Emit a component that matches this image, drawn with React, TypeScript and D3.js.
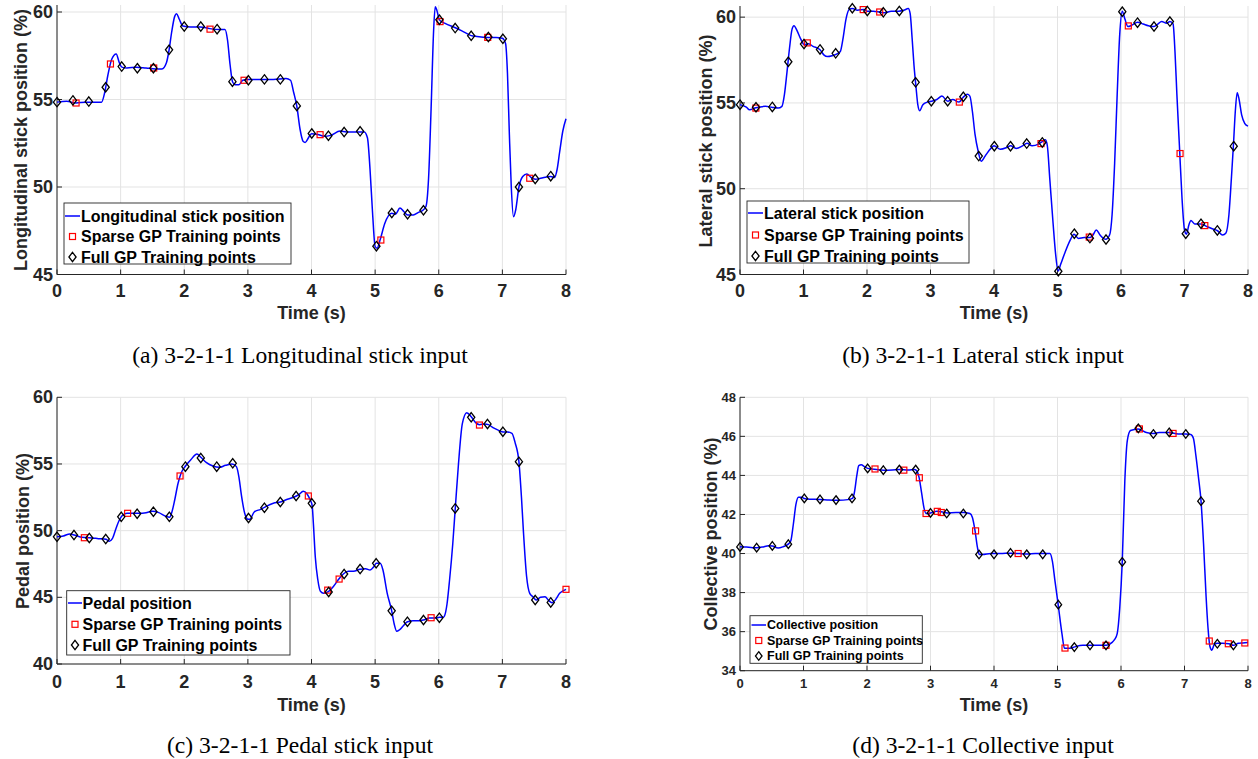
import React from 'react';
import * as d3 from 'd3';

// ---------- DATA ----------
const timeTicks = [0, 1, 2, 3, 4, 5, 6, 7, 8];
const longYTicks = [45, 50, 55, 60];
const latYTicks = [45, 50, 55, 60];
const pedalYTicks = [40, 45, 50, 55, 60];
const collYTicks = [34, 36, 38, 40, 42, 44, 46, 48];

const longitudinalCurve: [number, number][] = [
  [0, 54.85], [0.15, 54.9], [0.3, 54.8], [0.45, 54.85], [0.6, 54.85], [0.7, 54.85], [0.75, 55.4], [0.8, 56.4],
  [0.86, 57.3], [0.93, 57.6], [0.98, 57.1], [1.02, 56.85], [1.1, 56.8], [1.25, 56.85], [1.4, 56.8], [1.55, 56.75],
  [1.65, 56.75], [1.72, 57.1], [1.76, 57.8], [1.8, 58.8], [1.85, 59.75], [1.88, 59.9], [1.92, 59.6], [1.98, 59.2],
  [2.1, 59.15], [2.25, 59.15], [2.4, 59.05], [2.55, 59.0], [2.64, 59.0], [2.68, 58.4], [2.72, 57.0], [2.76, 56.0],
  [2.8, 55.85], [2.86, 55.85], [2.92, 56.1], [3.0, 56.15], [3.2, 56.15], [3.4, 56.15], [3.6, 56.2], [3.67, 56.1],
  [3.72, 55.4], [3.77, 54.6], [3.82, 53.3], [3.87, 52.6], [3.9, 52.55], [3.95, 52.8], [4.0, 53.05], [4.1, 53.0],
  [4.2, 52.9], [4.3, 52.95], [4.45, 53.2], [4.55, 53.15], [4.7, 53.15], [4.83, 53.15], [4.88, 52.8], [4.92, 51.0],
  [4.96, 48.5], [5.0, 46.6], [5.03, 46.5], [5.08, 47.0], [5.15, 47.9], [5.26, 48.5], [5.32, 48.45], [5.39, 48.8],
  [5.45, 48.6], [5.51, 48.4], [5.6, 48.4], [5.68, 48.55], [5.76, 48.7], [5.8, 48.9], [5.84, 50.5], [5.88, 54.5],
  [5.92, 59.0], [5.945, 60.3], [5.97, 60.1], [6.01, 59.55], [6.1, 59.35], [6.26, 59.1], [6.4, 58.85], [6.51, 58.65],
  [6.6, 58.6], [6.78, 58.55], [6.9, 58.55], [7.0, 58.5], [7.05, 58.2], [7.08, 56.5], [7.11, 53.0], [7.14, 50.0],
  [7.175, 48.3], [7.21, 48.7], [7.26, 50.0], [7.32, 50.6], [7.385, 50.75], [7.45, 50.55], [7.52, 50.45], [7.6, 50.5],
  [7.76, 50.6], [7.82, 50.55], [7.86, 51.0], [7.9, 52.0], [7.95, 53.2], [8.0, 53.9],
];
const longitudinalSparse: [number, number][] = [
  [0.3, 54.8], [0.84, 57.03], [1.52, 56.8], [2.405, 59.02], [2.94, 56.1], [4.135, 52.99], [5.09, 46.97],
  [6.02, 59.45], [6.77, 58.55], [7.43, 50.5],
];
const longitudinalFull: [number, number][] = [
  [0, 54.85], [0.25, 54.95], [0.5, 54.88], [0.765, 55.7], [1.017, 56.88], [1.263, 56.79], [1.515, 56.79],
  [1.761, 57.84], [2.0, 59.17], [2.26, 59.17], [2.516, 59.02], [2.757, 56.02], [3.008, 56.1], [3.26, 56.15],
  [3.51, 56.15], [3.769, 54.63], [4.004, 53.06], [4.266, 52.93], [4.513, 53.14], [4.764, 53.18], [5.02, 46.62],
  [5.262, 48.51], [5.51, 48.44], [5.76, 48.67], [6.01, 59.56], [6.258, 59.08], [6.51, 58.64], [6.78, 58.57],
  [7.008, 58.47], [7.26, 50.0], [7.516, 50.46], [7.76, 50.62],
];

const lateralCurve: [number, number][] = [
  [0, 54.9], [0.1, 54.75], [0.15, 54.6], [0.25, 54.72], [0.4, 54.8], [0.5, 54.75], [0.6, 54.7], [0.66, 54.8],
  [0.7, 55.5], [0.74, 56.8], [0.78, 58.2], [0.82, 59.3], [0.85, 59.5], [0.9, 59.2], [0.96, 58.7], [1.01, 58.4],
  [1.08, 58.45], [1.15, 58.3], [1.26, 58.1], [1.32, 57.8], [1.38, 57.7], [1.45, 57.75], [1.52, 57.85], [1.58, 58.0],
  [1.62, 58.7], [1.67, 59.9], [1.72, 60.45], [1.77, 60.5], [1.85, 60.4], [1.95, 60.45], [2.0, 60.35], [2.1, 60.35],
  [2.2, 60.3], [2.28, 60.25], [2.38, 60.35], [2.5, 60.35], [2.58, 60.4], [2.65, 60.5], [2.68, 60.2], [2.71, 58.8],
  [2.74, 57.2], [2.77, 56.0], [2.8, 54.9], [2.83, 54.55], [2.88, 54.9], [2.95, 55.05], [3.01, 55.1], [3.1, 55.2],
  [3.18, 55.4], [3.27, 55.1], [3.35, 55.2], [3.45, 55.05], [3.52, 55.35], [3.58, 55.5], [3.62, 55.4], [3.66, 54.5],
  [3.7, 53.2], [3.75, 52.2], [3.8, 51.6], [3.86, 51.9], [3.95, 52.35], [4.0, 52.5], [4.1, 52.3], [4.2, 52.4],
  [4.26, 52.5], [4.35, 52.35], [4.45, 52.5], [4.52, 52.65], [4.6, 52.5], [4.7, 52.6], [4.76, 52.75], [4.81, 52.85],
  [4.84, 52.5], [4.88, 50.5], [4.93, 48.0], [4.97, 46.2], [5.01, 45.2], [5.05, 45.6], [5.12, 46.3], [5.2, 47.0],
  [5.26, 47.35], [5.33, 47.1], [5.42, 47.15], [5.51, 47.15], [5.56, 47.3], [5.61, 47.6], [5.67, 47.3], [5.76, 47.05],
  [5.82, 47.3], [5.86, 48.5], [5.9, 51.5], [5.94, 55.5], [5.98, 59.0], [6.02, 60.35], [6.06, 59.9], [6.11, 59.45],
  [6.18, 59.55], [6.26, 59.7], [6.35, 59.6], [6.43, 59.5], [6.52, 59.45], [6.58, 59.6], [6.64, 59.75], [6.72, 59.65],
  [6.77, 59.74], [6.82, 59.6], [6.85, 58.0], [6.88, 55.5], [6.92, 52.5], [6.96, 49.5], [7.0, 47.6], [7.03, 47.35],
  [7.07, 47.9], [7.1, 48.15], [7.16, 47.95], [7.26, 47.95], [7.35, 47.8], [7.45, 47.65], [7.52, 47.55], [7.6, 47.3],
  [7.65, 47.4], [7.7, 48.5], [7.74, 50.7], [7.77, 52.5], [7.8, 54.5], [7.83, 55.6], [7.86, 55.2], [7.9, 54.3],
  [7.95, 53.8], [8.0, 53.65],
];
const lateralSparse: [number, number][] = [
  [0.25, 54.7], [1.06, 58.5], [1.94, 60.44], [2.2, 60.3], [3.454, 55.05], [4.74, 52.63], [5.5, 47.18],
  [6.115, 59.49], [6.93, 52.05], [7.32, 47.85],
];
const lateralFull: [number, number][] = [
  [0, 54.9], [0.252, 54.75], [0.509, 54.77], [0.761, 57.4], [1.008, 58.43], [1.26, 58.12], [1.507, 57.89],
  [1.769, 60.52], [2.005, 60.36], [2.257, 60.28], [2.509, 60.36], [2.766, 56.2], [3.013, 55.1], [3.27, 55.1],
  [3.517, 55.36], [3.76, 51.9], [4.005, 52.48], [4.26, 52.48], [4.515, 52.63], [4.76, 52.7], [5.013, 45.19],
  [5.265, 47.38], [5.51, 47.12], [5.764, 47.04], [6.02, 60.32], [6.26, 59.68], [6.52, 59.45], [6.77, 59.74],
  [7.02, 47.38], [7.26, 47.96], [7.517, 47.57], [7.775, 52.48],
];

const pedalCurve: [number, number][] = [
  [0, 49.55], [0.1, 49.6], [0.2, 49.75], [0.27, 49.68], [0.35, 49.55], [0.45, 49.48], [0.55, 49.45], [0.65, 49.4],
  [0.77, 49.35], [0.82, 49.2], [0.87, 49.4], [0.93, 50.2], [0.98, 50.8], [1.02, 51.1], [1.1, 51.3], [1.2, 51.3],
  [1.3, 51.3], [1.4, 51.35], [1.5, 51.45], [1.6, 51.35], [1.7, 51.1], [1.77, 51.0], [1.8, 51.3], [1.85, 52.3],
  [1.9, 53.5], [1.95, 54.3], [2.02, 54.85], [2.1, 55.3], [2.2, 55.75], [2.26, 55.5], [2.35, 55.1], [2.45, 54.85],
  [2.55, 54.75], [2.65, 54.9], [2.75, 55.0], [2.82, 54.8], [2.86, 54.0], [2.9, 52.6], [2.95, 51.3], [3.0, 50.85],
  [3.03, 50.85], [3.1, 51.4], [3.2, 51.6], [3.26, 51.75], [3.4, 52.05], [3.51, 52.15], [3.62, 52.35], [3.72, 52.5],
  [3.8, 52.7], [3.87, 52.95], [3.93, 52.75], [3.98, 52.3], [4.01, 51.9], [4.03, 50.5], [4.06, 48.0], [4.1, 46.3],
  [4.14, 45.45], [4.19, 45.3], [4.27, 45.45], [4.35, 45.85], [4.43, 46.37], [4.5, 46.75], [4.58, 46.95],
  [4.66, 46.95], [4.76, 47.1], [4.85, 47.15], [4.92, 47.05], [4.98, 47.3], [5.02, 47.55], [5.08, 47.55],
  [5.12, 47.1], [5.19, 45.3], [5.26, 44.0], [5.3, 43.0], [5.34, 42.45], [5.38, 42.55], [5.44, 42.85], [5.5, 43.15],
  [5.6, 43.25], [5.7, 43.25], [5.76, 43.3], [5.85, 43.45], [5.95, 43.45], [6.01, 43.5], [6.07, 43.5], [6.09, 43.6],
  [6.13, 44.5], [6.17, 46.3], [6.22, 49.0], [6.26, 51.7], [6.31, 55.0], [6.37, 58.0], [6.44, 58.85], [6.51, 58.55],
  [6.58, 58.1], [6.64, 57.95], [6.72, 58.0], [6.78, 57.95], [6.86, 57.7], [6.95, 57.5], [7.01, 57.4], [7.08, 57.4],
  [7.15, 57.3], [7.2, 56.6], [7.26, 55.17], [7.3, 52.5], [7.33, 50.0], [7.38, 46.6], [7.43, 45.3], [7.48, 45.05],
  [7.53, 44.8], [7.6, 45.0], [7.67, 45.05], [7.73, 44.75], [7.78, 44.6], [7.84, 44.85], [7.9, 45.3], [7.96, 45.5],
  [8.0, 45.6],
];
const pedalSparse: [number, number][] = [
  [0.43, 49.47], [1.11, 51.3], [1.934, 54.1], [3.95, 52.6], [4.255, 45.54], [4.434, 46.37], [5.88, 43.47],
  [6.64, 57.92], [8.0, 45.6],
];
const pedalFull: [number, number][] = [
  [0, 49.54], [0.267, 49.67], [0.508, 49.45], [0.766, 49.37], [1.01, 51.04], [1.26, 51.27], [1.515, 51.42],
  [1.766, 51.04], [2.018, 54.8], [2.26, 55.45], [2.51, 54.8], [2.762, 55.05], [3.01, 50.95], [3.26, 51.72],
  [3.51, 52.15], [3.758, 52.6], [4.005, 52.05], [4.27, 45.4], [4.513, 46.75], [4.764, 47.12], [5.016, 47.55],
  [5.26, 43.99], [5.508, 43.17], [5.76, 43.3], [6.01, 43.47], [6.258, 51.67], [6.51, 58.5], [6.766, 58.0],
  [7.008, 57.42], [7.26, 55.17], [7.516, 44.8], [7.76, 44.62],
];

const collectiveCurve: [number, number][] = [
  [0, 40.35], [0.1, 40.33], [0.2, 40.3], [0.26, 40.3], [0.35, 40.33], [0.45, 40.4], [0.51, 40.38], [0.6, 40.28],
  [0.68, 40.35], [0.76, 40.48], [0.8, 40.65], [0.84, 41.5], [0.88, 42.5], [0.92, 42.88], [0.97, 42.88],
  [1.01, 42.82], [1.1, 42.78], [1.26, 42.77], [1.4, 42.74], [1.55, 42.73], [1.7, 42.76], [1.77, 42.82], [1.8, 43.1],
  [1.84, 44.0], [1.87, 44.5], [1.91, 44.55], [1.96, 44.45], [2.01, 44.36], [2.15, 44.3], [2.26, 44.27], [2.4, 44.28],
  [2.51, 44.3], [2.65, 44.28], [2.75, 44.3], [2.79, 44.2], [2.82, 43.9], [2.86, 43.1], [2.9, 42.3], [2.93, 42.05],
  [2.97, 42.05], [3.02, 42.1], [3.1, 42.16], [3.2, 42.12], [3.26, 42.08], [3.4, 42.1], [3.52, 42.1], [3.62, 42.05],
  [3.66, 41.85], [3.7, 41.2], [3.74, 40.3], [3.77, 39.95], [3.82, 39.95], [3.95, 40.0], [4.1, 40.0], [4.26, 40.02],
  [4.4, 40.0], [4.52, 39.98], [4.65, 40.0], [4.77, 40.0], [4.88, 40.0], [4.92, 39.6], [4.96, 38.6], [5.01, 37.4],
  [5.07, 35.9], [5.11, 35.15], [5.2, 35.15], [5.27, 35.22], [5.4, 35.3], [5.52, 35.3], [5.65, 35.3], [5.77, 35.3],
  [5.86, 35.45], [5.9, 35.6], [5.94, 35.9], [5.98, 37.2], [6.02, 39.6], [6.06, 43.7], [6.1, 45.8], [6.15, 46.3],
  [6.27, 46.38], [6.4, 46.2], [6.51, 46.15], [6.6, 46.2], [6.76, 46.2], [6.9, 46.12], [7.02, 46.12], [7.1, 46.1],
  [7.14, 45.9], [7.18, 45.0], [7.22, 43.9], [7.26, 42.7], [7.3, 40.5], [7.34, 37.8], [7.37, 36.2], [7.4, 35.25],
  [7.43, 35.05], [7.47, 35.35], [7.52, 35.4], [7.6, 35.4], [7.7, 35.38], [7.77, 35.3], [7.85, 35.4], [7.92, 35.42],
  [8.0, 35.45],
];
const collectiveSparse: [number, number][] = [
  [2.126, 44.33], [2.58, 44.27], [2.824, 43.88], [2.93, 42.05], [3.107, 42.16], [3.17, 42.1], [3.71, 41.16],
  [4.38, 40.0], [5.118, 35.16], [5.764, 35.3], [6.29, 46.38], [6.82, 46.15], [7.39, 35.52], [7.69, 35.38],
  [7.95, 35.42],
];
const collectiveFull: [number, number][] = [
  [0, 40.34], [0.262, 40.3], [0.509, 40.39], [0.761, 40.48], [1.013, 42.82], [1.26, 42.77], [1.512, 42.74],
  [1.764, 42.82], [2.01, 44.36], [2.257, 44.27], [2.509, 44.3], [2.766, 44.3], [3.0, 42.08], [3.255, 42.05],
  [3.517, 42.05], [3.764, 39.95], [4.0, 39.96], [4.26, 40.03], [4.515, 39.96], [4.767, 39.96], [5.013, 37.38],
  [5.265, 35.21], [5.512, 35.3], [5.764, 35.3], [6.02, 39.57], [6.273, 46.41], [6.51, 46.12], [6.76, 46.2],
  [7.02, 46.12], [7.26, 42.68], [7.517, 35.38], [7.77, 35.3],
];

const sparseLabel = 'Sparse GP Training points';
const fullLabel = 'Full GP Training points';
const timeLabel = 'Time (s)';

// ---------- LAYOUT ----------
const SANS = '"Liberation Sans", Arial, Helvetica, sans-serif';
const SERIF = '"Liberation Serif", "Times New Roman", serif';
const INK = '#262626';

type PanelCfg = {
  curve: [number, number][];
  sparse: [number, number][];
  full: [number, number][];
  yTicks: number[];
  yDomain: [number, number];
  rect: { l: number; r: number; t: number; b: number };
  yLabel: string;
  yLabelPos: [number, number];
  lineLabel: string;
  caption: string;
  captionPos: [number, number];
  tickFont: number;
  xTickY: number;
  timeY: number;
  legend: { x: number; y: number; w: number; h: number; rows: number[]; s0: number; s1: number; tx: number; font: number };
};

const panels: PanelCfg[] = [
  {
    curve: longitudinalCurve, sparse: longitudinalSparse, full: longitudinalFull, yTicks: longYTicks,
    yDomain: [45, 60.4], rect: { l: 57, r: 566, t: 5, b: 274.5 },
    yLabel: 'Longitudinal stick position (%)', yLabelPos: [21, 140], lineLabel: 'Longitudinal stick position',
    caption: '(a) 3-2-1-1 Longitudinal stick input', captionPos: [300, 355], tickFont: 18, xTickY: 291, timeY: 313,
    legend: { x: 64, y: 203, w: 227, h: 61, rows: [216, 236.5, 257], s0: 65, s1: 80, tx: 81, font: 16 },
  },
  {
    curve: lateralCurve, sparse: lateralSparse, full: lateralFull, yTicks: latYTicks,
    yDomain: [45, 60.65], rect: { l: 740, r: 1248, t: 6, b: 274.5 },
    yLabel: 'Lateral stick position (%)', yLabelPos: [706, 141], lineLabel: 'Lateral stick position',
    caption: '(b) 3-2-1-1 Lateral stick input', captionPos: [983, 355], tickFont: 18, xTickY: 291, timeY: 313,
    legend: { x: 747, y: 201, w: 222, h: 62, rows: [213, 235, 256], s0: 748, s1: 763, tx: 764, font: 16 },
  },
  {
    curve: pedalCurve, sparse: pedalSparse, full: pedalFull, yTicks: pedalYTicks,
    yDomain: [40, 60], rect: { l: 57, r: 566, t: 397.3, b: 664 },
    yLabel: 'Pedal position (%)', yLabelPos: [23, 531], lineLabel: 'Pedal position',
    caption: '(c) 3-2-1-1 Pedal stick input', captionPos: [300, 745], tickFont: 18, xTickY: 682, timeY: 705,
    legend: { x: 66.7, y: 590.7, w: 223.3, h: 64.3, rows: [603, 624.3, 645], s0: 68, s1: 82, tx: 82.5, font: 16 },
  },
  {
    curve: collectiveCurve, sparse: collectiveSparse, full: collectiveFull, yTicks: collYTicks,
    yDomain: [34, 48], rect: { l: 740, r: 1248, t: 397.3, b: 670.7 },
    yLabel: 'Collective position (%)', yLabelPos: [711, 534], lineLabel: 'Collective position',
    caption: '(d) 3-2-1-1 Collective input', captionPos: [983, 745], tickFont: 13, xTickY: 683, timeY: 705,
    legend: { x: 750, y: 615.7, w: 172.3, h: 47.6, rows: [625, 640.5, 656], s0: 751.5, s1: 766, tx: 767, font: 12.5 },
  },
];

const Diamond = ({ x, y, s }: { x: number; y: number; s: number }) => (
  <path
    d={`M${x},${y - s * 1.3}L${x + s},${y}L${x},${y + s * 1.3}L${x - s},${y}Z`}
    fill="none" stroke="#000" strokeWidth={1.3}
  />
);
const Square = ({ x, y, s }: { x: number; y: number; s: number }) => (
  <rect x={x - s} y={y - s} width={2 * s} height={2 * s} fill="none" stroke="#ff0000" strokeWidth={1.2} />
);

const Panel = ({ cfg }: { cfg: PanelCfg }) => {
  const { rect } = cfg;
  const x = d3.scaleLinear().domain([0, 8]).range([rect.l, rect.r]);
  const y = d3.scaleLinear().domain(cfg.yDomain).range([rect.b, rect.t]);
  const line = d3.line<[number, number]>().x((d) => x(d[0])).y((d) => y(d[1])).curve(d3.curveMonotoneX);
  const small = cfg.tickFont < 15;
  const ds = small ? 3.3 : 3.6;
  const ss = 3.0;
  const L = cfg.legend;
  const lm = (L.s0 + L.s1) / 2;
  return (
    <g>
      {timeTicks.map((t) => (
        <line key={'gx' + t} x1={x(t)} x2={x(t)} y1={rect.t} y2={rect.b} stroke="#e3e3e3" strokeWidth={1} />
      ))}
      {cfg.yTicks.map((v) => (
        <line key={'gy' + v} x1={rect.l} x2={rect.r} y1={y(v)} y2={y(v)} stroke="#e3e3e3" strokeWidth={1} />
      ))}
      <line x1={rect.l} x2={rect.r} y1={rect.b} y2={rect.b} stroke={INK} strokeWidth={1} />
      <line x1={rect.l} x2={rect.l} y1={rect.t} y2={rect.b} stroke={INK} strokeWidth={1} />
      {timeTicks.map((t) => (
        <line key={'tx' + t} x1={x(t)} x2={x(t)} y1={rect.b} y2={rect.b - 5} stroke={INK} strokeWidth={1} />
      ))}
      {cfg.yTicks.map((v) => (
        <line key={'ty' + v} x1={rect.l} x2={rect.l + 5} y1={y(v)} y2={y(v)} stroke={INK} strokeWidth={1} />
      ))}
      {timeTicks.map((t) => (
        <text key={'lx' + t} x={x(t)} y={cfg.xTickY} textAnchor="middle" dominantBaseline="central"
          fontFamily={SANS} fontWeight="bold" fontSize={cfg.tickFont} fill={INK}>{t}</text>
      ))}
      {cfg.yTicks.map((v) => (
        <text key={'ly' + v} x={rect.l - 4} y={y(v)} textAnchor="end" dominantBaseline="central"
          fontFamily={SANS} fontWeight="bold" fontSize={cfg.tickFont} fill={INK}>{v}</text>
      ))}
      <text x={(rect.l + rect.r) / 2} y={cfg.timeY} textAnchor="middle" dominantBaseline="central"
        fontFamily={SANS} fontWeight="bold" fontSize={18} fill={INK}>{timeLabel}</text>
      <text transform={`translate(${cfg.yLabelPos[0]},${cfg.yLabelPos[1]}) rotate(-90)`} textAnchor="middle"
        dominantBaseline="central" fontFamily={SANS} fontWeight="bold" fontSize={18} fill={INK}>{cfg.yLabel}</text>
      <path d={line(cfg.curve) || ''} fill="none" stroke="#0000ff" strokeWidth={1.5} />
      {cfg.sparse.map((p, i) => <Square key={'s' + i} x={x(p[0])} y={y(p[1])} s={ss} />)}
      {cfg.full.map((p, i) => <Diamond key={'f' + i} x={x(p[0])} y={y(p[1])} s={ds} />)}
      <rect x={L.x} y={L.y} width={L.w} height={L.h} fill="#fff" stroke={INK} strokeWidth={0.9} />
      <line x1={L.s0} x2={L.s1} y1={L.rows[0]} y2={L.rows[0]} stroke="#0000ff" strokeWidth={1.5} />
      <Square x={lm} y={L.rows[1]} s={ss} />
      <Diamond x={lm} y={L.rows[2]} s={ds} />
      {[cfg.lineLabel, sparseLabel, fullLabel].map((s, i) => (
        <text key={'lg' + i} x={L.tx} y={L.rows[i]} dominantBaseline="central" fontFamily={SANS}
          fontWeight="bold" fontSize={L.font} fill="#000">{s}</text>
      ))}
      <text x={cfg.captionPos[0]} y={cfg.captionPos[1]} textAnchor="middle" dominantBaseline="central"
        fontFamily={SERIF} fontSize={23.6} fill="#000">{cfg.caption}</text>
    </g>
  );
};

export default function App() {
  return (
    <svg width={1258} height={759} style={{ position: 'absolute', left: 0, top: 0, background: '#fff' }}>
      <rect x={0} y={0} width={1258} height={759} fill="#fff" />
      {panels.map((p, i) => <Panel key={i} cfg={p} />)}
    </svg>
  );
}
